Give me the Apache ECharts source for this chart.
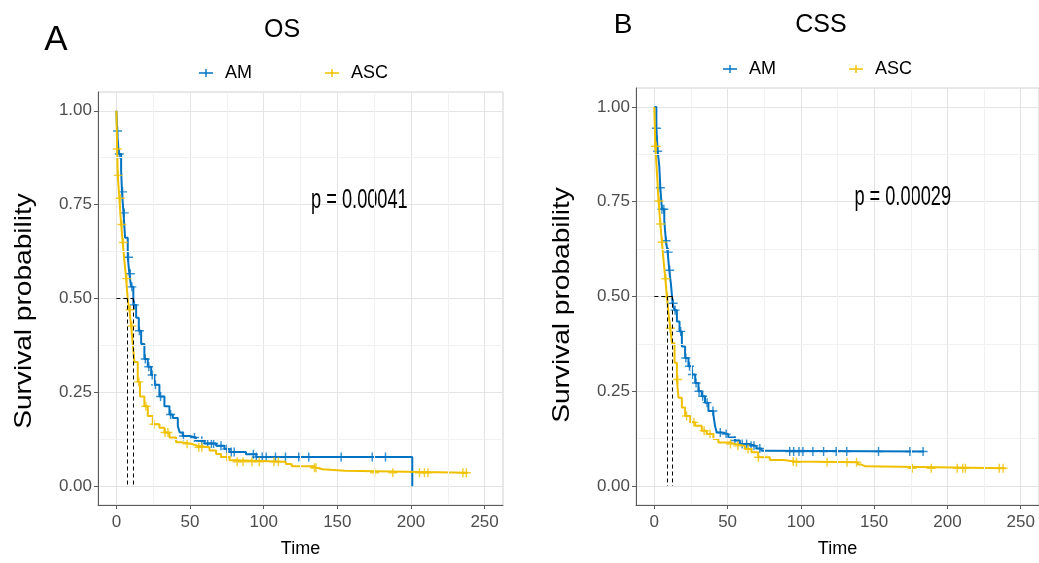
<!DOCTYPE html>
<html>
<head>
<meta charset="utf-8">
<script src="https://cdn.jsdelivr.net/npm/echarts@6/dist/echarts.min.js"></script>
<style>
html,body{margin:0;padding:0;background:#fff;}
#chart{width:1039px;height:563px;}
</style>
</head>
<body>
<div id="chart"></div>
<script>
// ---- data ----
const timeTicks = [0, 50, 100, 150, 200, 250];
const timeMinor = [25, 75, 125, 175, 225];
const probTicks = [0, 0.25, 0.5, 0.75, 1];
const probMinor = [0.125, 0.375, 0.625, 0.875];
const groups = ['AM', 'ASC'];
const panelLetters = ['A', 'B'];
const panelTitles = ['OS', 'CSS'];
const yTitle = 'Survival probability';
const xTitle = 'Time';
const pValues = ['p = 0.00041', 'p = 0.00029'];
const pValuePos = [[165, 0.762], [169.5, 0.762]];

// Kaplan-Meier step points [time, survival]
const osAM = [[0,1],[0.5,0.946],[1.6,0.885],[3.2,0.841],[3.8,0.784],[4.8,0.728],[5.9,0.662],[7.7,0.61],[8.8,0.566],[10,0.531],[11.5,0.483],[13.4,0.449],[15.2,0.414],[16.8,0.379],[19,0.339],[21.3,0.318],[23.6,0.296],[25.8,0.27],[29.2,0.239],[32.6,0.213],[36,0.191],[38.3,0.182],[41.7,0.16],[43,0.143],[45,0.134],[49.6,0.13],[54,0.121],[59.8,0.114],[67.7,0.108],[73.4,0.099],[76.8,0.091],[88,0.085],[95,0.078],[200.9,0.078],[200.9,0]];
const osASC = [[0,1],[0.5,0.898],[0.9,0.828],[2,0.767],[3.2,0.697],[4.3,0.649],[5.4,0.601],[6.6,0.553],[7.7,0.497],[8.8,0.47],[10,0.427],[11.1,0.379],[12.2,0.331],[14.5,0.278],[16,0.239],[19,0.213],[21.3,0.187],[24.7,0.165],[29.2,0.156],[32.6,0.143],[36,0.13],[40.5,0.117],[44,0.113],[50.7,0.108],[55,0.104],[63.2,0.095],[67.7,0.086],[71,0.078],[76.8,0.069],[81.3,0.065],[115,0.059],[119,0.053],[134,0.049],[136,0.045],[140,0.041],[155,0.036],[238.5,0.036]];
const cssAM = [[0,1],[1.4,0.944],[2.3,0.883],[3.4,0.844],[4.1,0.787],[5.2,0.73],[6.8,0.7],[7.9,0.647],[9.1,0.617],[10.2,0.569],[11.3,0.534],[12.5,0.482],[13.8,0.464],[15.4,0.434],[17.2,0.408],[18.8,0.368],[21,0.338],[23.3,0.316],[25.6,0.294],[27.9,0.272],[30.1,0.25],[32.4,0.237],[34.6,0.22],[36.9,0.198],[40.3,0.189],[41.4,0.159],[42.6,0.141],[46,0.137],[50.5,0.128],[55,0.12],[58.4,0.111],[64,0.106],[69.7,0.099],[73.1,0.093],[75.4,0.091],[184,0.091]];
const cssASC = [[0,1],[0.7,0.896],[1.8,0.826],[2.9,0.752],[4.1,0.691],[5.2,0.643],[6.3,0.595],[7.5,0.547],[8.6,0.499],[9.7,0.455],[10.9,0.416],[12,0.377],[13.8,0.325],[15.4,0.281],[16.5,0.233],[18.8,0.207],[21,0.185],[24.5,0.168],[27.9,0.159],[32.4,0.146],[35.8,0.137],[40.3,0.124],[43.7,0.115],[51.6,0.111],[55,0.106],[61.8,0.098],[66.3,0.089],[70.9,0.076],[78.8,0.069],[88,0.065],[96,0.063],[139,0.057],[141,0.052],[144,0.047],[239.6,0.047]];

// censoring times
const osAMCensor = [0.8,2,4.2,5.3,8.2,9.4,10.5,12.2,15.6,19.6,22,24.3,26.5,30,36.8,45.5,53,58,62,64.5,66,71,75,78,80,93,95,99,101.7,108,114.8,123.8,130.6,152.6,173.7,182.7];
const osASCCensor = [0.6,1.2,2.6,3.7,4.7,7,9.4,10.5,15.2,20,25.5,33,35,48,56,58,75,82,86,92,97,107,110,134.5,135.5,175.3,187.7,205.8,209.2,211.5,235.3,237.6];
const cssAMCensor = [1.4,2.3,4.1,5.2,6.5,8,9.5,10.5,12.8,14.2,18,21.5,24,26,28.5,30.5,33,36,40,45,49,55,60,63,66,68,72,92.4,95.1,98.7,101.4,108.2,115.5,124.1,131.3,153,174.4,183.4];
const cssASCCensor = [0.7,1.3,3.2,4.3,5.5,7.8,9,11,16,22,27,34,38,52,57,64,71,94.8,97,117.9,131.5,138,176,189,206.7,210.5,212.3,235.4,238];

// median survival times [AM, ASC]
const osMedians = [11.5, 7.7];
const cssMedians = [12.3, 8.6];

// ---- helpers ----
const COLORS = ['#0073C2', '#EFC000'];
const FONT = 'Liberation Sans, Arial, sans-serif';
const PLUS = 'path://M0,4.2H10V5.8H0Z M4.2,0H5.8V10H4.2Z';
const LEG_ICON = 'path://M0,3.3H14V4.7H0Z M6.3,0H7.7V8H6.3Z';
const X_MIN = -12.5, X_MAX = 262.5, Y_MIN = -0.05, Y_MAX = 1.05;

function survAt(curve, t) {
  let s = curve[0][1];
  for (const p of curve) { if (p[0] <= t) s = p[1]; else break; }
  return s;
}
function censorPts(curve, times) { return times.map(t => [t, survAt(curve, t)]); }

const panels = [
  {curves: [osAM, osASC], censors: [osAMCensor, osASCCensor], med: osMedians},
  {curves: [cssAM, cssASC], censors: [cssAMCensor, cssASCCensor], med: cssMedians}
];

const grids = [
  {left: 98, top: 92, width: 405, height: 420},
  {left: 636, top: 88, width: 403, height: 419}
];

const xAxes = [], yAxes = [], series = [];
grids.forEach((g, i) => {
  g.show = true; g.borderColor = '#d0d0d0'; g.borderWidth = 1; g.backgroundColor = '#fff';
  xAxes.push({
    type: 'value', gridIndex: i, min: X_MIN, max: X_MAX, interval: 12.5,
    name: xTitle, nameLocation: 'middle', nameGap: 35,
    nameTextStyle: {fontSize: 18, color: '#000', fontFamily: FONT},
    axisLine: {show: true, onZero: false, lineStyle: {color: '#5a5a5a', width: 1}},
    axisTick: {show: true, customValues: timeTicks, length: 4, lineStyle: {color: '#5a5a5a'}},
    axisLabel: {customValues: timeTicks, fontSize: 17, color: '#4d4d4d', fontFamily: FONT, margin: 9},
    splitLine: {show: true, lineStyle: {color: '#e4e4e4', width: 1}}
  });
  yAxes.push({
    type: 'value', gridIndex: i, min: Y_MIN, max: Y_MAX, interval: 0.025,
    axisLine: {show: true, onZero: false, lineStyle: {color: '#5a5a5a', width: 1}},
    axisTick: {show: true, customValues: probTicks, length: 4, lineStyle: {color: '#5a5a5a'}},
    axisLabel: {customValues: probTicks, fontSize: 17, color: '#4d4d4d', fontFamily: FONT, margin: 6,
      formatter: v => Number(v).toFixed(2)},
    splitLine: {show: true, lineStyle: {color: '#e4e4e4', width: 1}}
  });
  const p = panels[i];
  // minor grid lines (kept just inside the panel so they do not cross the axis lines)
  const xIn0 = X_MIN + 1, xIn1 = X_MAX - 1, yIn0 = Y_MIN + 0.004, yIn1 = Y_MAX - 0.004;
  series.push({
    type: 'line', xAxisIndex: i, yAxisIndex: i, data: [], silent: true, z: 0,
    markLine: {
      symbol: ['none', 'none'], silent: true, label: {show: false}, animation: false,
      lineStyle: {color: '#f1f1f1', type: 'solid', width: 1},
      data: timeMinor.map(v => [{coord: [v, yIn0]}, {coord: [v, yIn1]}])
        .concat(probMinor.map(v => [{coord: [xIn0, v]}, {coord: [xIn1, v]}]))
    }
  });
  // median dashed lines
  const mAM = p.med[0], mASC = p.med[1];
  series.push({
    type: 'line', xAxisIndex: i, yAxisIndex: i, data: [], silent: true,
    markLine: {
      symbol: ['none', 'none'], silent: true, label: {show: false}, animation: false,
      lineStyle: {color: '#000', type: [4, 3], width: 1},
      data: [
        [{coord: [0, 0.5]}, {coord: [Math.max(mAM, mASC), 0.5]}],
        [{coord: [mAM, 0.5]}, {coord: [mAM, 0]}],
        [{coord: [mASC, 0.5]}, {coord: [mASC, 0]}]
      ]
    }
  });
  groups.forEach((name, k) => {
    series.push({
      name: name, type: 'line', step: 'end', xAxisIndex: i, yAxisIndex: i,
      data: p.curves[k], showSymbol: false, symbol: 'none',
      lineStyle: {color: COLORS[k], width: 2}, itemStyle: {color: COLORS[k]},
      z: 3 + k, animation: false
    });
  });
  groups.forEach((name, k) => {
    series.push({
      name: name + ' censored', type: 'scatter', xAxisIndex: i, yAxisIndex: i,
      data: censorPts(p.curves[k], p.censors[k]), symbol: PLUS, symbolSize: 9,
      itemStyle: {color: COLORS[k]}, z: 3 + k, animation: false
    });
  });
});

const chart = echarts.init(document.getElementById('chart'), null, {renderer: 'canvas'});
const legendBase = {
  data: groups, icon: LEG_ICON, itemWidth: 14, itemHeight: 8, itemGap: 73,
  textStyle: {fontSize: 18, color: '#000', fontFamily: FONT, padding: [0, 0, 0, 7]}, selectedMode: false
};
chart.setOption({
  animation: false,
  backgroundColor: '#fff',
  textStyle: {fontFamily: FONT},
  grid: grids,
  xAxis: xAxes,
  yAxis: yAxes,
  legend: [
    Object.assign({left: 194, top: 59}, legendBase),
    Object.assign({left: 718, top: 55}, legendBase)
  ],
  series: series
});

// texts: panel letters, titles, y titles, p-values
const graphics = [
  {type: 'text', x: 56, y: 40, style: {text: panelLetters[0], fontSize: 35, fill: '#000', fontFamily: FONT, textAlign: 'center', textVerticalAlign: 'middle'}},
  {type: 'text', x: 623, y: 25, style: {text: panelLetters[1], fontSize: 28, fill: '#000', fontFamily: FONT, textAlign: 'center', textVerticalAlign: 'middle'}},
  {type: 'text', x: 282, y: 30, style: {text: panelTitles[0], fontSize: 25, fill: '#000', fontFamily: FONT, textAlign: 'center', textVerticalAlign: 'middle'}},
  {type: 'text', x: 821, y: 25, style: {text: panelTitles[1], fontSize: 25, fill: '#000', fontFamily: FONT, textAlign: 'center', textVerticalAlign: 'middle'}},
  {type: 'text', x: 24, y: 311, rotation: Math.PI / 2, scaleX: 1.17, style: {text: yTitle, fontSize: 24, fill: '#000', fontFamily: FONT, textAlign: 'center', textVerticalAlign: 'middle'}},
  {type: 'text', x: 562, y: 305, rotation: Math.PI / 2, scaleX: 1.17, style: {text: yTitle, fontSize: 24, fill: '#000', fontFamily: FONT, textAlign: 'center', textVerticalAlign: 'middle'}}
];
pValues.forEach((txt, i) => {
  const px = chart.convertToPixel({gridIndex: i}, pValuePos[i]);
  graphics.push({type: 'text', x: px[0], y: px[1], scaleX: 0.65,
    style: {text: txt, fontSize: 28, fill: '#000', fontFamily: FONT, textAlign: 'center', textVerticalAlign: 'middle'}});
});
chart.setOption({graphic: graphics});
</script>
</body>
</html>
